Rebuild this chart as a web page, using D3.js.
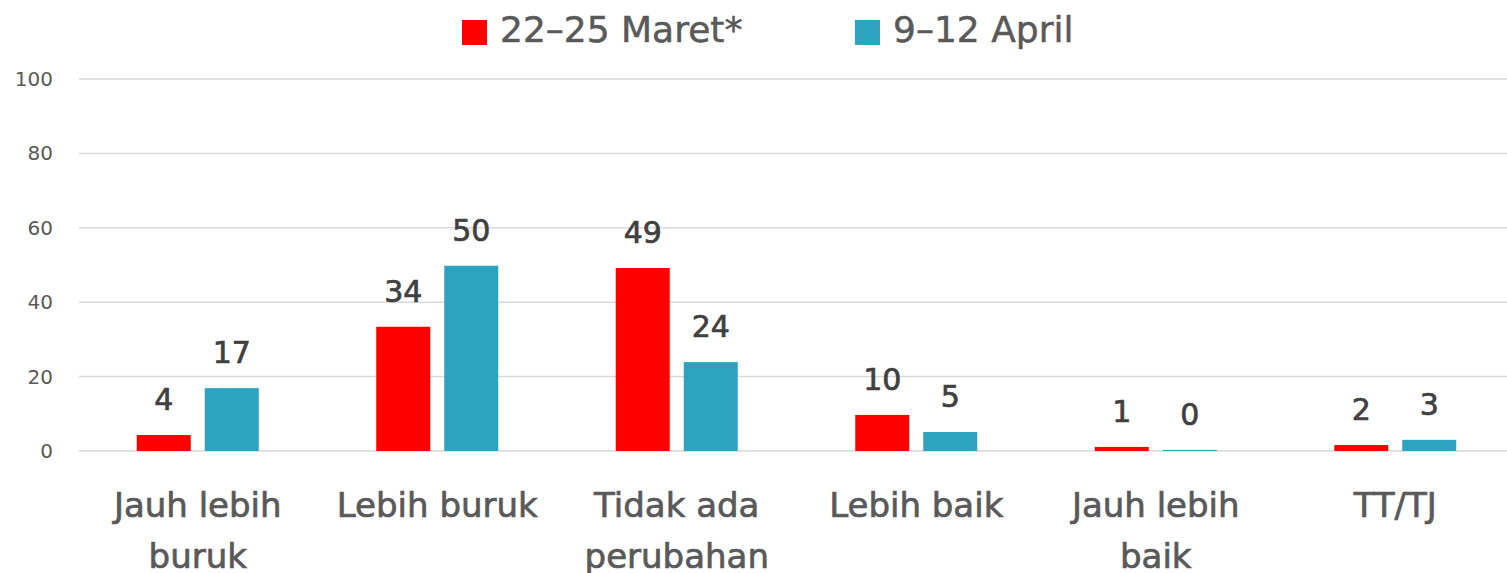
<!DOCTYPE html>
<html>
<head>
<meta charset="utf-8">
<script src="https://cdn.jsdelivr.net/npm/d3@7"></script>
<style>
  body { margin: 0; background: #fff; }
  svg { display: block; font-family: "DejaVu Sans", sans-serif; }
</style>
</head>
<body>
<div id="chart"></div>
<script>
// data
const categories = [["Jauh lebih", "buruk"], ["Lebih buruk"], ["Tidak ada", "perubahan"], ["Lebih baik"], ["Jauh lebih", "baik"], ["TT/TJ"]];
const seriesNames = ["22\u201325 Maret*", "9\u201312 April"];
const maret = [4.3, 33.4, 49.2, 9.7, 1.1, 1.6];
const april = [16.9, 49.8, 23.9, 5.1, 0.3, 3.0];
const maretLabels = ["4", "34", "49", "10", "1", "2"];
const aprilLabels = ["17", "50", "24", "5", "0", "3"];
const yTicks = [0, 20, 40, 60, 80, 100];
const colors = ["#ff0000", "#2ea3c0"];

const width = 1507, height = 573;
const margin = { top: 79, right: 0, bottom: 122, left: 79 };

const svg = d3.select('#chart').append('svg')
    .attr('width', width)
    .attr('height', height);

// bands run a little past the right edge, as in the original
const x = d3.scaleBand()
    .domain(d3.range(categories.length))
    .range([78, 1515]);

const y = d3.scaleLinear()
    .domain([0, 100])
    .range([height - margin.bottom, margin.top]);

// gridlines
svg.append('g')
    .selectAll('line')
    .data(yTicks)
    .enter().append('line')
    .attr('x1', margin.left)
    .attr('x2', width - margin.right)
    .attr('y1', d => y(d))
    .attr('y2', d => y(d))
    .attr('stroke', '#d9d9d9')
    .attr('stroke-width', 1.5);

// y axis labels
const yAxis = svg.append('g')
    .attr('transform', `translate(${margin.left - 26},0)`)
    .call(d3.axisLeft(y).tickValues(yTicks).tickSize(0).tickPadding(0));
yAxis.select('.domain').remove();
yAxis.selectAll('text')
    .attr('font-size', 20)
    .attr('font-family', '"DejaVu Sans", sans-serif')
    .attr('fill', '#595959');

// bars
const barW = 54, gap = 14;
const series = [maret, april];
const labels = [maretLabels, aprilLabels];

series.forEach((vals, s) => {
    const offset = s === 0 ? -gap / 2 - barW : gap / 2;
    svg.append('g')
        .selectAll('rect')
        .data(vals)
        .enter().append('rect')
        .attr('x', (d, i) => x(i) + x.bandwidth() / 2 + offset)
        .attr('y', d => y(d))
        .attr('width', barW)
        .attr('height', d => y(0) - y(d))
        .attr('fill', colors[s]);

    svg.append('g')
        .selectAll('text')
        .data(vals)
        .enter().append('text')
        .attr('x', (d, i) => x(i) + x.bandwidth() / 2 + offset + barW / 2)
        .attr('y', d => y(d) - 25)
        .attr('text-anchor', 'middle')
        .attr('font-size', 30)
        .attr('fill', '#404040')
        .attr('stroke', '#404040')
        .attr('stroke-width', 0.7)
        .text((d, i) => labels[s][i]);
});

// category labels
const cat = svg.append('g')
    .selectAll('text')
    .data(categories)
    .enter().append('text')
    .attr('x', (d, i) => x(i) + x.bandwidth() / 2)
    .attr('y', 517)
    .attr('text-anchor', 'middle')
    .attr('font-size', 34)
    .attr('fill', '#595959')
    .attr('stroke', '#595959')
    .attr('stroke-width', 0.7);
cat.selectAll('tspan')
    .data(d => d)
    .enter().append('tspan')
    .attr('x', function () { return d3.select(this.parentNode).attr('x'); })
    .attr('dy', (d, i) => i === 0 ? 0 : 51)
    .text(d => d);

// legend
const legendX = [462, 855];
seriesNames.forEach((name, s) => {
    svg.append('rect')
        .attr('x', legendX[s])
        .attr('y', 20)
        .attr('width', 25)
        .attr('height', 25)
        .attr('fill', colors[s]);
    svg.append('text')
        .attr('x', legendX[s] + 38)
        .attr('y', 42)
        .attr('font-size', 36)
        .attr('fill', '#595959')
        .attr('stroke', '#595959')
        .attr('stroke-width', 0.5)
        .text(name);
});
</script>
</body>
</html>
